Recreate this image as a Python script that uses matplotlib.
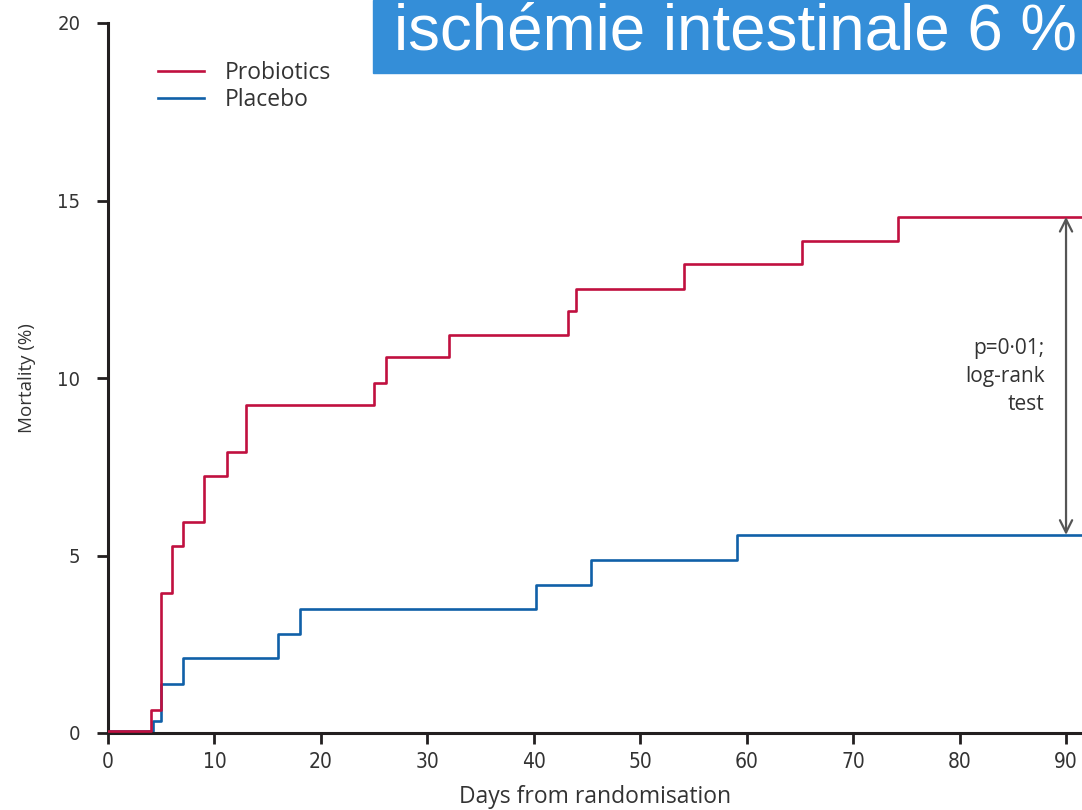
import matplotlib.pyplot as plt
from matplotlib.patches import Rectangle

# Kaplan-Meier style step data (days, cumulative mortality %)
probio_days = [0, 4, 5, 6, 7, 9, 11.2, 13, 25, 26.1, 32, 43.2, 44, 54.1, 65.2, 74.2, 91.5]
probio_mort = [0.05, 0.65, 3.94, 5.27, 5.94, 7.24, 7.92, 9.24, 9.86, 10.6, 11.2, 11.9, 12.5, 13.2, 13.86, 14.54, 14.54]

placebo_days = [0, 4.2, 5, 7, 16, 18, 40.2, 45.4, 59.1, 91.5]
placebo_mort = [0.05, 0.34, 1.38, 2.11, 2.79, 3.49, 4.17, 4.87, 5.58, 5.58]

x_ticks = [0, 10, 20, 30, 40, 50, 60, 70, 80, 90]
y_ticks = [0, 5, 10, 15, 20]

red = '#c0103f'
blue = '#1060a8'
dark = '#231f20'
txt = '#333333'

fig = plt.figure(figsize=(10.82, 8.1), dpi=100)
ax = fig.add_axes([108 / 1082, 77 / 810, 1 - 108 / 1082, (733 - 23) / 810])

ax.step(placebo_days, placebo_mort, where='post', color=blue, lw=1.9, label='Placebo', zorder=2)
ax.step(probio_days, probio_mort, where='post', color=red, lw=1.9, label='Probiotics', zorder=3)

ax.set_xlim(0, 91.5)
ax.set_ylim(0, 20)
ax.set_xticks(x_ticks)
ax.set_yticks(y_ticks)
for s in ['top', 'right']:
    ax.spines[s].set_visible(False)
for s in ['left', 'bottom']:
    ax.spines[s].set_linewidth(2.2)
    ax.spines[s].set_color(dark)
ax.tick_params(direction='out', length=8, width=2, color=dark, labelcolor=txt)
tickfont = ['DejaVu Sans']
for lab in ax.get_xticklabels():
    lab.set_family(tickfont)
    lab.set_fontstretch('condensed')
    lab.set_fontsize(15)
for lab in ax.get_yticklabels():
    lab.set_family(tickfont)
    lab.set_fontstretch('condensed')
    lab.set_fontsize(14.5)
ax.tick_params(axis='y', pad=12)
ax.tick_params(axis='x', pad=6)

ax.set_xlabel('Days from randomisation', fontsize=16.5, family='Open Sans', color=txt, labelpad=9)
ax.set_ylabel('Mortality (%)', fontsize=13.5, family='Open Sans', color=txt, labelpad=15)

leg = ax.legend(handles=[ax.lines[1], ax.lines[0]], loc='upper left', frameon=False,
                bbox_to_anchor=(50 / 974, 0.947), borderpad=0, borderaxespad=0,
                handlelength=2.0, handletextpad=0.9,
                labelspacing=0.14, prop={'family': 'Open Sans', 'size': 16.5})
for t in leg.get_texts():
    t.set_color(txt)

# p-value arrow
ax.annotate('', xy=(90, probio_mort[-1]), xytext=(90, placebo_mort[-1]),
            arrowprops=dict(arrowstyle='<->', color='#555555', lw=1.6,
                            mutation_scale=22, shrinkA=0, shrinkB=0))
ax.text(88, 10.05, 'p=0·01;\nlog-rank\ntest', ha='right', va='center', fontsize=15,
        family='Open Sans', color=txt, linespacing=1.45)

# blue title banner
fig.patches.append(Rectangle((373 / 1082, 1 - 73 / 810), 1 - 373 / 1082, 73 / 810,
                             transform=fig.transFigure, color='#348ed8', zorder=5))
fig.text(394 / 1082, 1 - 50 / 810, 'ischémie intestinale 6 %', ha='left', va='baseline',
         fontsize=45.8, family='Liberation Sans', color='white', zorder=6)

fig.savefig('out.png', dpi=100)
